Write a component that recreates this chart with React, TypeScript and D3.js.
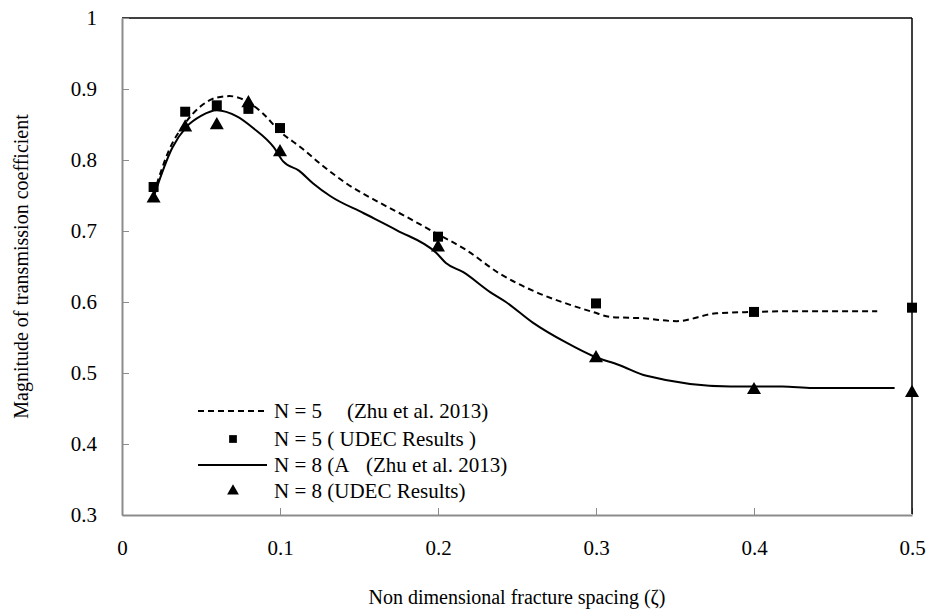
import React, { useEffect, useRef } from "react";
import * as d3 from "d3";

// N = 5, Zhu et al. 2013 (dashed)
const n5ZhuX = [0.02, 0.03, 0.04, 0.05, 0.06, 0.068, 0.077, 0.089, 0.1, 0.113, 0.127, 0.142, 0.163, 0.18, 0.197, 0.218, 0.239, 0.26, 0.281, 0.298, 0.309, 0.33, 0.351, 0.376, 0.4, 0.42, 0.478];
const n5ZhuY = [0.752, 0.815, 0.852, 0.876, 0.888, 0.89, 0.885, 0.866, 0.84, 0.818, 0.792, 0.767, 0.74, 0.72, 0.699, 0.673, 0.64, 0.616, 0.598, 0.586, 0.579, 0.577, 0.573, 0.584, 0.586, 0.587, 0.587];

// N = 8, Zhu et al. 2013 (solid)
const n8ZhuX = [0.02, 0.032, 0.041, 0.05, 0.06, 0.073, 0.083, 0.096, 0.102, 0.112, 0.121, 0.132, 0.153, 0.174, 0.199, 0.205, 0.216, 0.233, 0.243, 0.26, 0.281, 0.298, 0.315, 0.332, 0.385, 0.418, 0.437, 0.489];
const n8ZhuY = [0.748, 0.818, 0.847, 0.862, 0.87, 0.861, 0.845, 0.818, 0.798, 0.785, 0.767, 0.749, 0.725, 0.701, 0.669, 0.655, 0.642, 0.614, 0.6, 0.571, 0.543, 0.524, 0.511, 0.496, 0.481, 0.481, 0.479, 0.479];

// UDEC results
const udecX = [0.02, 0.04, 0.06, 0.08, 0.1, 0.2, 0.3, 0.4, 0.5];
const n5UdecY = [0.762, 0.868, 0.877, 0.872, 0.845, 0.692, 0.598, 0.586, 0.592];
const n8UdecY = [0.746, 0.846, 0.849, 0.88, 0.811, 0.677, 0.521, 0.476, 0.472];

const xTicks = [0, 0.1, 0.2, 0.3, 0.4, 0.5];
const yTicks = [0.3, 0.4, 0.5, 0.6, 0.7, 0.8, 0.9, 1];

const W = 932;
const H = 614;
const FONT = "Liberation Serif";
const AXIS_GRAY = "#8c8c8c";

const App = () => {
  const ref = useRef<SVGSVGElement>(null);

  useEffect(() => {
    const svg = d3.select(ref.current);
    svg.selectAll("*").remove();

    const x = d3.scaleLinear().domain([0, 0.5]).range([122, 912]);
    const y = d3.scaleLinear().domain([0.3, 1]).range([515, 18]);

    // frame: top black
    svg.append("line").attr("x1", x(0)).attr("x2", x(0.5)).attr("y1", y(1)).attr("y2", y(1))
      .attr("stroke", "#000").attr("stroke-width", 1.5);

    // left axis (gray, inner ticks)
    const yAxis = svg.append("g")
      .attr("transform", `translate(${x(0)},0)`)
      .call(d3.axisLeft(y).tickValues(yTicks).tickSize(-7).tickSizeOuter(0).tickFormat(d3.format("")));
    yAxis.attr("font-family", FONT).attr("font-size", 21);
    yAxis.select(".domain").attr("stroke", AXIS_GRAY).attr("stroke-width", 2);
    yAxis.selectAll(".tick line").attr("stroke", AXIS_GRAY).attr("stroke-width", 1);
    yAxis.selectAll(".tick text")
      .attr("x", -25)
      .attr("text-anchor", "end")
      .attr("fill", "#000");

    // bottom axis (gray, inner ticks)
    const xAxis = svg.append("g")
      .attr("transform", `translate(0,${y(0.3)})`)
      .call(d3.axisBottom(x).tickValues(xTicks).tickSize(-7).tickSizeOuter(0).tickFormat(d3.format("")));
    xAxis.attr("font-family", FONT).attr("font-size", 21);
    xAxis.select(".domain").attr("stroke", AXIS_GRAY).attr("stroke-width", 2);
    xAxis.selectAll(".tick line").attr("stroke", AXIS_GRAY).attr("stroke-width", 1);
    xAxis.selectAll(".tick text")
      .attr("y", 25)
      .attr("fill", "#000");

    // right edge black
    svg.append("line").attr("x1", x(0.5)).attr("x2", x(0.5)).attr("y1", y(1)).attr("y2", y(0.3) - 1)
      .attr("stroke", "#000").attr("stroke-width", 1.5);

    // axis titles
    svg.append("text")
      .attr("x", (x(0) + x(0.5)) / 2)
      .attr("y", 604)
      .attr("text-anchor", "middle")
      .attr("font-family", FONT)
      .attr("font-size", 20)
      .text("Non dimensional fracture spacing (ζ)");
    svg.append("text")
      .attr("transform", `translate(28,${(y(0.3) + y(1)) / 2}) rotate(-90)`)
      .attr("text-anchor", "middle")
      .attr("font-family", FONT)
      .attr("font-size", 20)
      .text("Magnitude of transmission coefficient");

    const line = d3.line<[number, number]>()
      .x(d => x(d[0]))
      .y(d => y(d[1]))
      .curve(d3.curveMonotoneX);

    const n5Zhu: [number, number][] = n5ZhuX.map((v, i) => [v, n5ZhuY[i]]);
    const n8Zhu: [number, number][] = n8ZhuX.map((v, i) => [v, n8ZhuY[i]]);

    svg.append("path").datum(n5Zhu).attr("d", line)
      .attr("fill", "none").attr("stroke", "#000").attr("stroke-width", 2).attr("stroke-dasharray", "6,4");
    svg.append("path").datum(n8Zhu).attr("d", line)
      .attr("fill", "none").attr("stroke", "#000").attr("stroke-width", 2);

    const sq = d3.symbol().type(d3.symbolSquare).size(100);
    const tri = d3.symbol().type(d3.symbolTriangle).size(85);

    svg.append("g").selectAll("path")
      .data(udecX.map((v, i) => [v, n5UdecY[i]]))
      .join("path")
      .attr("d", sq)
      .attr("transform", d => `translate(${x(d[0])},${y(d[1])})`)
      .attr("fill", "#000");

    svg.append("g").selectAll("path")
      .data(udecX.map((v, i) => [v, n8UdecY[i]]))
      .join("path")
      .attr("d", tri)
      .attr("transform", d => `translate(${x(d[0])},${y(d[1])})`)
      .attr("fill", "#000");

    // legend
    const leg = svg.append("g").attr("font-family", FONT).attr("font-size", 21);
    const rows = [411, 439, 465, 491];
    leg.append("line").attr("x1", 198).attr("x2", 267).attr("y1", rows[0]).attr("y2", rows[0])
      .attr("stroke", "#000").attr("stroke-width", 2).attr("stroke-dasharray", "6,4");
    leg.append("path").attr("d", d3.symbol().type(d3.symbolSquare).size(60))
      .attr("transform", `translate(233,${rows[1]})`);
    leg.append("line").attr("x1", 198).attr("x2", 267).attr("y1", rows[2]).attr("y2", rows[2])
      .attr("stroke", "#000").attr("stroke-width", 2);
    leg.append("path").attr("d", d3.symbol().type(d3.symbolTriangle).size(60))
      .attr("transform", `translate(233,${rows[3]})`);

    const legText = [
      ["N = 5", "(Zhu et al. 2013)", 347],
      ["N = 5 ( UDEC Results )", "", 0],
      ["N = 8 (A", "(Zhu et al. 2013)", 366],
      ["N = 8 (UDEC Results)", "", 0],
    ] as [string, string, number][];
    legText.forEach((t, i) => {
      leg.append("text").attr("x", 274).attr("y", rows[i]).attr("dy", "0.35em").text(t[0]);
      if (t[1]) leg.append("text").attr("x", t[2]).attr("y", rows[i]).attr("dy", "0.35em").text(t[1]);
    });
  }, []);

  return (
    <svg
      ref={ref}
      width={W}
      height={H}
      style={{ position: "absolute", left: 0, top: 0, background: "#fff" }}
    />
  );
};

export default App;
